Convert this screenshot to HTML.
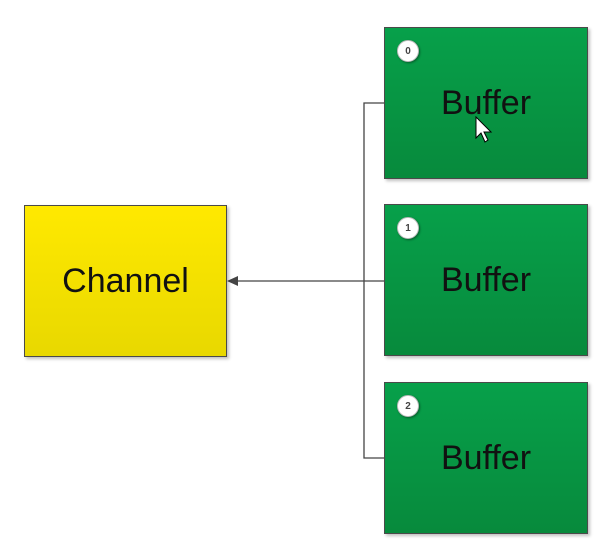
<!DOCTYPE html>
<html><head><style>
body{margin:0;width:606px;height:551px;background:#fff;position:relative;overflow:hidden;font-family:"Liberation Sans",sans-serif}
.b{position:absolute;box-sizing:border-box;border:1px solid #4a4a4a;display:flex;align-items:center;justify-content:center;font-size:34px;color:#111;box-shadow:2px 2px 3px rgba(0,0,0,.25)}
.g{left:384px;width:204px;height:152px;background:linear-gradient(#07a04a,#078a3c)}
.c{position:absolute;left:12px;top:12px;width:20px;height:20px;border-radius:50%;background:#fff;border:1px solid #bbb;font-size:10px;font-weight:bold;color:#444;display:flex;align-items:center;justify-content:center;box-shadow:1px 1px 2px rgba(0,0,0,.4)}
</style></head><body>
<svg width="606" height="551" style="position:absolute;left:0;top:0">
<path d="M384 103H364V458H384M384 281H234" stroke="#444" stroke-width="1.3" fill="none"/>
<polygon points="227,281 238,276 238,286" fill="#444"/>
</svg>
<div class="b" style="left:24px;top:205px;width:203px;height:152px;background:linear-gradient(#ffe900,#e8d800)">Channel</div>
<div class="b g" style="top:27px"><div class="c">0</div>Buffer</div>
<div class="b g" style="top:204px"><div class="c">1</div>Buffer</div>
<div class="b g" style="top:382px"><div class="c">2</div>Buffer</div>
<svg width="20" height="30" style="position:absolute;left:474px;top:116px"><polygon points="2,1 2,22 7,17 11,26 14,24 10,16 17,16" fill="#fff" stroke="#000" stroke-width="1"/></svg>
</body></html>
